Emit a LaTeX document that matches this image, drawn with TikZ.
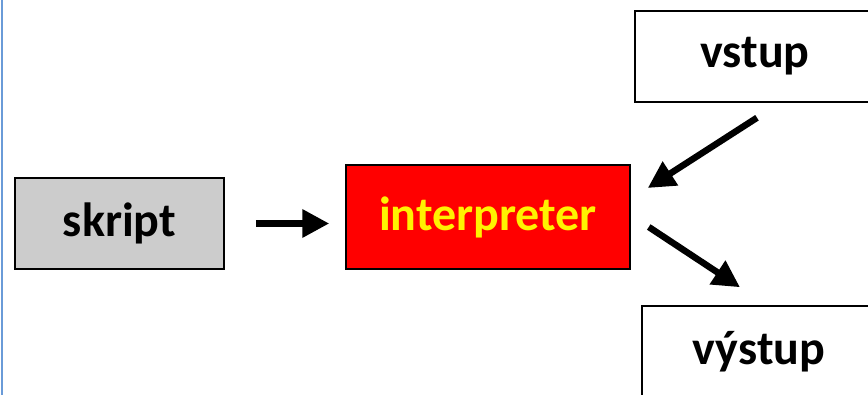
\documentclass[tikz,border=0pt]{standalone}
\usepackage{fontspec}
\setmainfont{Carlito}
\usetikzlibrary{arrows.meta,calc}
\definecolor{boxgray}{HTML}{CCCCCC}
\definecolor{edgeblue}{HTML}{6A9BD8}
\begin{document}
\begin{tikzpicture}[x=1pt,y=-1pt,
  box/.style={draw=black,line width=1.5pt,inner sep=0pt,font=\fontsize{48}{52}\selectfont\bfseries},
  arr/.style={line width=6.5pt,-{Triangle[length=27pt,width=27pt]}}]
\clip (0,0) rectangle (868,395);
\fill[white] (0,0) rectangle (868,395);
\draw[edgeblue,line width=2pt] (1.5,0) -- (1.5,395);
\node[box,fill=boxgray,minimum width=209pt,minimum height=91pt] (skript) at (119.5,223.5) {skript};
\node[box,fill=red,text=yellow,minimum width=284pt,minimum height=104pt] (interp) at (488,217) {interpreter};
\node[box,fill=white,minimum width=240pt,minimum height=91pt] (vstup) at (755,56.5) {vstup};
\node[box,fill=white,minimum width=234pt,minimum height=91pt] (vystup) at (759,351.5) {výstup};
\coordinate (a1) at ($(vstup.south)+(2,15)$);
\coordinate (a2) at ($(interp.east)+(17,-29)$);
\coordinate (b1) at ($(interp.east)+(18,10)$);
\coordinate (b2) at ($(vystup.north)+(-19,-18)$);
\draw[arr,shorten <=31pt,shorten >=16pt] (skript.east) -- (skript.east -| interp.west);
\draw[arr] (a1) -- (a2);
\draw[arr] (b1) -- (b2);
\end{tikzpicture}
\end{document}
